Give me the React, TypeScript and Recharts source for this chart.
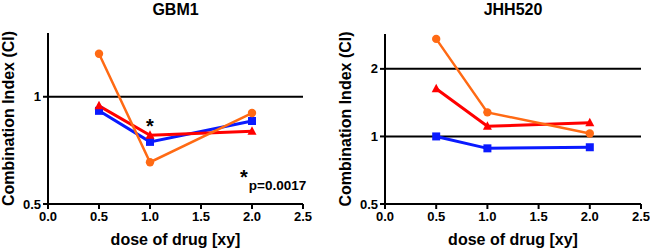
import React from "react";
import {
  LineChart,
  Line,
  XAxis,
  YAxis,
  ReferenceLine,
  ReferenceDot,
} from "recharts";

// doses on the x axis, CI values
const doses = [0.5, 1.0, 2.0];
const gbm1Orange = [1.32, 0.655, 0.9];
const gbm1Red = [0.943, 0.78, 0.8];
const gbm1Blue = [0.913, 0.747, 0.855];
const jhhOrange = [2.72, 1.28, 1.03];
const jhhRed = [1.63, 1.11, 1.15];
const jhhBlue = [1.0, 0.885, 0.895];

const xTicks = [0, 0.5, 1, 1.5, 2, 2.5];
const gbm1YTicks = [0.5, 1];
const jhhYTicks = [0.5, 1, 2];

const FONT = "'Liberation Sans', Arial, sans-serif";
const ORANGE = "#ff6a14";
const RED = "#ff0000";
const BLUE = "#0a1aff";

function buildRows(orange: number[], red: number[], blue: number[]) {
  return doses.map((d, i) => ({ dose: d, orange: orange[i], red: red[i], blue: blue[i] }));
}

const squareDot = (props: any) => (
  <rect
    key={`sq-${props.index}`}
    x={props.cx - 4}
    y={props.cy - 4}
    width={8}
    height={8}
    fill={BLUE}
  />
);

const triangleDot = (props: any) => (
  <polygon
    key={`tr-${props.index}`}
    points={`${props.cx},${props.cy - 5} ${props.cx - 4.5},${props.cy + 3.5} ${props.cx + 4.5},${props.cy + 3.5}`}
    fill={RED}
  />
);

const tickStyle = { fontSize: 13, fontWeight: 700, fill: "#000", fontFamily: FONT };
const labelStyle = { fontSize: 16, fontWeight: 700, fill: "#000", fontFamily: FONT };

interface PanelProps {
  title: string;
  rows: any[];
  yTop: number;
  yTicks: number[];
  yAxisWidth: number;
  rightMargin: number;
  topMargin: number;
  xAxisHeight: number;
  refLines: number[];
  children?: React.ReactNode;
}

function Panel({
  title,
  rows,
  yTop,
  yTicks,
  yAxisWidth,
  rightMargin,
  topMargin,
  xAxisHeight,
  refLines,
  children,
}: PanelProps) {
  const plotCenter = (yAxisWidth + 325 - rightMargin) / 2;
  return (
    <div style={{ position: "relative", width: 325, height: 251 }}>
      <div
        style={{
          position: "absolute",
          top: 0,
          left: plotCenter - 80,
          width: 160,
          textAlign: "center",
          fontFamily: FONT,
          fontWeight: 700,
          fontSize: 16,
          lineHeight: "20px",
        }}
      >
        {title}
      </div>
      <LineChart
        width={325}
        height={251}
        data={rows}
        margin={{ top: topMargin, right: rightMargin, bottom: 0, left: 0 }}
      >
        <XAxis
          type="number"
          dataKey="dose"
          domain={[0, 2.5]}
          ticks={xTicks}
          tickFormatter={(v: number) => v.toFixed(1)}
          tick={tickStyle}
          tickSize={5}
          tickMargin={3}
          height={xAxisHeight}
          axisLine={{ stroke: "#000", strokeWidth: 2 }}
          tickLine={{ stroke: "#000", strokeWidth: 2 }}
          label={{ value: "dose of drug [xy]", position: "insideBottom", offset: 6, style: labelStyle }}
        />
        <YAxis
          scale="log"
          domain={[0.5, yTop]}
          allowDataOverflow
          ticks={yTicks}
          tickFormatter={(v: number) => String(v)}
          tick={tickStyle}
          tickSize={5}
          tickMargin={2}
          width={yAxisWidth}
          axisLine={{ stroke: "#000", strokeWidth: 2 }}
          tickLine={{ stroke: "#000", strokeWidth: 2 }}
          label={{
            value: "Combination Index (CI)",
            angle: -90,
            position: "insideLeft",
            offset: yAxisWidth - 40,
            style: { ...labelStyle, textAnchor: "middle" },
          }}
        />
        {refLines.map((v) => (
          <ReferenceLine key={v} y={v} stroke="#000" strokeWidth={2} />
        ))}
        <Line
          dataKey="blue"
          stroke={BLUE}
          strokeWidth={3}
          dot={squareDot}
          activeDot={false}
          isAnimationActive={false}
        />
        <Line
          dataKey="red"
          stroke={RED}
          strokeWidth={3}
          dot={triangleDot}
          activeDot={false}
          isAnimationActive={false}
        />
        <Line
          dataKey="orange"
          stroke={ORANGE}
          strokeWidth={2.5}
          dot={{ r: 4.2, fill: ORANGE, stroke: "none" }}
          activeDot={false}
          isAnimationActive={false}
        />
        {children}
      </LineChart>
    </div>
  );
}

export default function App() {
  return (
    <div style={{ position: "absolute", left: 0, top: 0, width: 650, height: 251, display: "flex", background: "#fff" }}>
      <div style={{ position: "relative" }}>
        <Panel
          title="GBM1"
          rows={buildRows(gbm1Orange, gbm1Red, gbm1Blue)}
          yTop={1.51}
          yTicks={gbm1YTicks}
          yAxisWidth={48}
          rightMargin={22}
          topMargin={33}
          xAxisHeight={47}
          refLines={[1]}
        >
          <ReferenceDot
            x={1}
            y={0.85}
            r={0}
            shape={(p: any) => (
              <text
                x={p.cx}
                y={p.cy + 11}
                textAnchor="middle"
                fontSize={20}
                fontWeight={700}
                fontFamily={FONT}
              >
                *
              </text>
            )}
          />
        </Panel>
        <div
          style={{
            position: "absolute",
            left: 240,
            top: 166,
            fontFamily: FONT,
            fontWeight: 700,
            whiteSpace: "nowrap",
          }}
        >
          <span style={{ fontSize: 20 }}>*</span>
          <span style={{ fontSize: 13.5, position: "relative", top: 6, marginLeft: 1 }}>p=0.0017</span>
        </div>
      </div>
      <Panel
        title="JHH520"
        rows={buildRows(jhhOrange, jhhRed, jhhBlue)}
        yTop={2.86}
        yTicks={jhhYTicks}
        yAxisWidth={60}
        rightMargin={9}
        topMargin={34}
        xAxisHeight={47}
        refLines={[1, 2]}
      />
    </div>
  );
}
